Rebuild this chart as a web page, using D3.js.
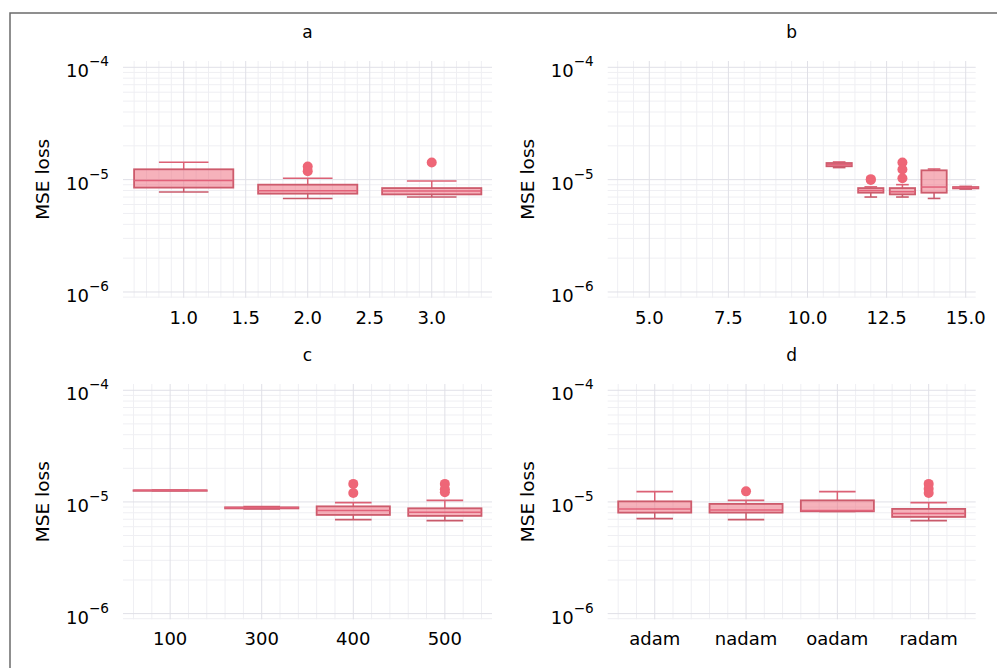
<!DOCTYPE html>
<html><head><meta charset="utf-8">
<script src="https://cdn.jsdelivr.net/npm/d3@7"></script>
<style>body{margin:0;background:#fff} svg text{font-family:"DejaVu Sans",sans-serif;fill:#000}</style>
</head><body><svg id="c" width="997" height="668"></svg>
<script>
// ---- data (five-number summaries: lower whisker, Q1, median, Q3, upper whisker) ----
const titles = ["a", "b", "c", "d"];
const yLabel = "MSE loss";
const yTickExps = [-4, -5, -6];

const aPos = [1, 2, 3];
const aStats = [[7.75e-6, 8.49e-6, 9.8e-6, 1.236e-5, 1.43e-5],
                [6.8e-6, 7.5e-6, 7.97e-6, 9.02e-6, 1.03e-5],
                [7.0e-6, 7.39e-6, 7.91e-6, 8.41e-6, 9.72e-6]];
const aOut = [[], [1.31e-5, 1.19e-5], [1.42e-5]];
const aTicks = [1.0, 1.5, 2.0, 2.5, 3.0];

const bPos = [11, 12, 13, 14, 15];
const bStats = [[1.28e-5, 1.315e-5, 1.36e-5, 1.406e-5, 1.436e-5],
                [7.0e-6, 7.65e-6, 8.0e-6, 8.41e-6, 8.62e-6],
                [7.0e-6, 7.39e-6, 7.8e-6, 8.41e-6, 9.02e-6],
                [6.8e-6, 7.65e-6, 8.59e-6, 1.21e-5, 1.243e-5],
                [8.24e-6, 8.36e-6, 8.49e-6, 8.59e-6, 8.71e-6]];
const bOut = [[], [9.95e-6, 1.01e-5], [1.42e-5, 1.23e-5, 1.03e-5], [], []];
const bTicks = [5.0, 7.5, 10.0, 12.5, 15.0];

const cCats = ["100", "300", "400", "500"];
const cStats = [[1.27e-5, 1.27e-5, 1.27e-5, 1.27e-5, 1.27e-5],
                [8.66e-6, 8.75e-6, 8.85e-6, 8.95e-6, 9.1e-6],
                [6.95e-6, 7.65e-6, 8.36e-6, 9.13e-6, 9.86e-6],
                [6.8e-6, 7.5e-6, 8.07e-6, 8.77e-6, 1.033e-5]];
const cOut = [[], [], [1.45e-5, 1.2e-5], [1.45e-5, 1.3e-5, 1.22e-5]];

const dCats = ["adam", "nadam", "oadam", "radam"];
const dStats = [[7.09e-6, 8.02e-6, 8.66e-6, 1.012e-5, 1.236e-5],
                [6.95e-6, 8.02e-6, 8.48e-6, 9.6e-6, 1.033e-5],
                [8.2e-6, 8.24e-6, 8.36e-6, 1.033e-5, 1.236e-5],
                [6.8e-6, 7.34e-6, 7.86e-6, 8.66e-6, 9.86e-6]];
const dOut = [[], [1.244e-5], [], [1.45e-5, 1.31e-5, 1.2e-5]];

// ---- layout ----
const svg = d3.select("#c");
svg.append("path").attr("d", "M10,668V13H997").attr("fill", "none")
   .attr("stroke", "#6b6b6b").attr("stroke-width", 1.5);

const colLeft = [123, 607.7], colRight = [492, 975.7];
const rowTop = [61, 384], rowBottom = [297.7, 619.3];
const yDomain = [Math.pow(10, -6.051), Math.pow(10, -3.944)];
const BASE = "#EE6677";

function catTicks(n) { return d3.range(1, n + 1); }

const panels = [
  {title: titles[0], col: 0, row: 0, dom: [0.5105, 3.486], pos: aPos, stats: aStats, out: aOut,
   ticks: aTicks, tickLab: d3.format(".1f"), minorStep: 0.1, majorStep: 0.5},
  {title: titles[1], col: 1, row: 0, dom: [3.685, 15.316], pos: bPos, stats: bStats, out: bOut,
   ticks: bTicks, tickLab: d3.format(".1f"), minorStep: 0.5, majorStep: 2.5},
  {title: titles[2], col: 0, row: 1, dom: [0.485, 4.515], pos: catTicks(cCats.length), stats: cStats, out: cOut,
   ticks: catTicks(cCats.length), tickLab: (t) => cCats[t - 1], minorStep: 0.2, majorStep: 1},
  {title: titles[3], col: 1, row: 1, dom: [0.485, 4.515], pos: catTicks(dCats.length), stats: dStats, out: dOut,
   ticks: catTicks(dCats.length), tickLab: (t) => dCats[t - 1], minorStep: 0.2, majorStep: 1}
];

panels.forEach(p => {
  const L = colLeft[p.col], R = colRight[p.col], T = rowTop[p.row], B = rowBottom[p.row];
  const x = d3.scaleLinear().domain(p.dom).range([L, R]);
  const y = d3.scaleLog().domain(yDomain).range([B, T]);
  const g = svg.append("g");

  // minor vertical grid
  const vMinor = [];
  for (let v = Math.ceil(p.dom[0] / p.minorStep) * p.minorStep; v <= p.dom[1] + 1e-9; v += p.minorStep) {
    const r = v / p.majorStep;
    if (Math.abs(r - Math.round(r)) > 1e-6) vMinor.push(v);
  }
  g.selectAll(null).data(vMinor).join("line")
    .attr("x1", d => x(d)).attr("x2", d => x(d)).attr("y1", T).attr("y2", B)
    .attr("stroke", "#efeff3").attr("stroke-width", 1);
  // minor horizontal grid
  const hMinor = [];
  for (let e = -7; e <= -4; e++) for (let m = 2; m <= 9; m++) {
    const v = m * Math.pow(10, e);
    if (v >= yDomain[0] && v <= yDomain[1]) hMinor.push(v);
  }
  g.selectAll(null).data(hMinor).join("line")
    .attr("x1", L).attr("x2", R).attr("y1", d => y(d)).attr("y2", d => y(d))
    .attr("stroke", "#efeff3").attr("stroke-width", 1);
  // major grids
  const vMajor = [];
  for (let v = Math.ceil(p.dom[0] / p.majorStep) * p.majorStep; v <= p.dom[1] + 1e-9; v += p.majorStep) vMajor.push(v);
  g.selectAll(null).data(vMajor).join("line")
    .attr("x1", d => x(d)).attr("x2", d => x(d)).attr("y1", T).attr("y2", B)
    .attr("stroke", "#e0e0e7").attr("stroke-width", 1);
  g.selectAll(null).data(yTickExps).join("line")
    .attr("x1", L).attr("x2", R).attr("y1", d => y(Math.pow(10, d))).attr("y2", d => y(Math.pow(10, d)))
    .attr("stroke", "#e0e0e7").attr("stroke-width", 1);

  // boxplots
  const hw = x(p.dom[0] + 0.4) - x(p.dom[0]);
  const cw = hw / 2;
  p.stats.forEach((s, i) => {
    const cx = x(p.pos[i]);
    const [lo, q1, med, q3, hi] = s;
    const wc = "#dc6175";
    g.append("line").attr("x1", cx).attr("x2", cx).attr("y1", y(hi)).attr("y2", y(q3))
      .attr("stroke", wc).attr("stroke-width", 1.5);
    g.append("line").attr("x1", cx).attr("x2", cx).attr("y1", y(q1)).attr("y2", y(lo))
      .attr("stroke", "#c95a6b").attr("stroke-width", 1.5);
    g.append("line").attr("x1", cx - cw).attr("x2", cx + cw).attr("y1", y(hi)).attr("y2", y(hi))
      .attr("stroke", wc).attr("stroke-width", 1.6);
    g.append("line").attr("x1", cx - cw).attr("x2", cx + cw).attr("y1", y(lo)).attr("y2", y(lo))
      .attr("stroke", "#c95a6b").attr("stroke-width", 1.6);
    g.append("rect").attr("x", cx - hw).attr("width", 2 * hw)
      .attr("y", y(q3)).attr("height", Math.max(0.5, y(q1) - y(q3)))
      .attr("fill", BASE).attr("fill-opacity", 0.5)
      .attr("stroke", "#cd5b6c").attr("stroke-width", 1.8);
    g.append("line").attr("x1", cx - hw).attr("x2", cx + hw).attr("y1", y(med)).attr("y2", y(med))
      .attr("stroke", "#e2627a").attr("stroke-width", 1.5);
    g.selectAll(null).data(p.out[i]).join("circle")
      .attr("cx", cx).attr("cy", d => y(d)).attr("r", 5).attr("fill", BASE);
  });

  // x tick labels
  g.selectAll(null).data(p.ticks).join("text")
    .attr("x", d => x(d)).attr("y", B + 25.8).attr("text-anchor", "middle")
    .attr("font-size", 18).text(d => p.tickLab(d));
  // y tick labels
  const yt = g.selectAll(null).data(yTickExps).join("text")
    .attr("x", L - 14).attr("y", d => y(Math.pow(10, d)) + 10).attr("text-anchor", "end")
    .attr("font-size", 18);
  yt.append("tspan").text("10");
  yt.append("tspan").attr("dy", -11).attr("font-size", 13.6).text(d => "\u2212" + Math.abs(d));
  // title
  g.append("text").attr("x", (L + R) / 2).attr("y", T - 23).attr("text-anchor", "middle")
    .attr("font-size", 17).text(p.title);
  // y label
  g.append("text").attr("transform", `translate(${L - 80.3},${(T + B) / 2}) rotate(-90)`)
    .attr("text-anchor", "middle").attr("dy", "0.35em").attr("font-size", 18.5).text(yLabel);
});
</script></body></html>
